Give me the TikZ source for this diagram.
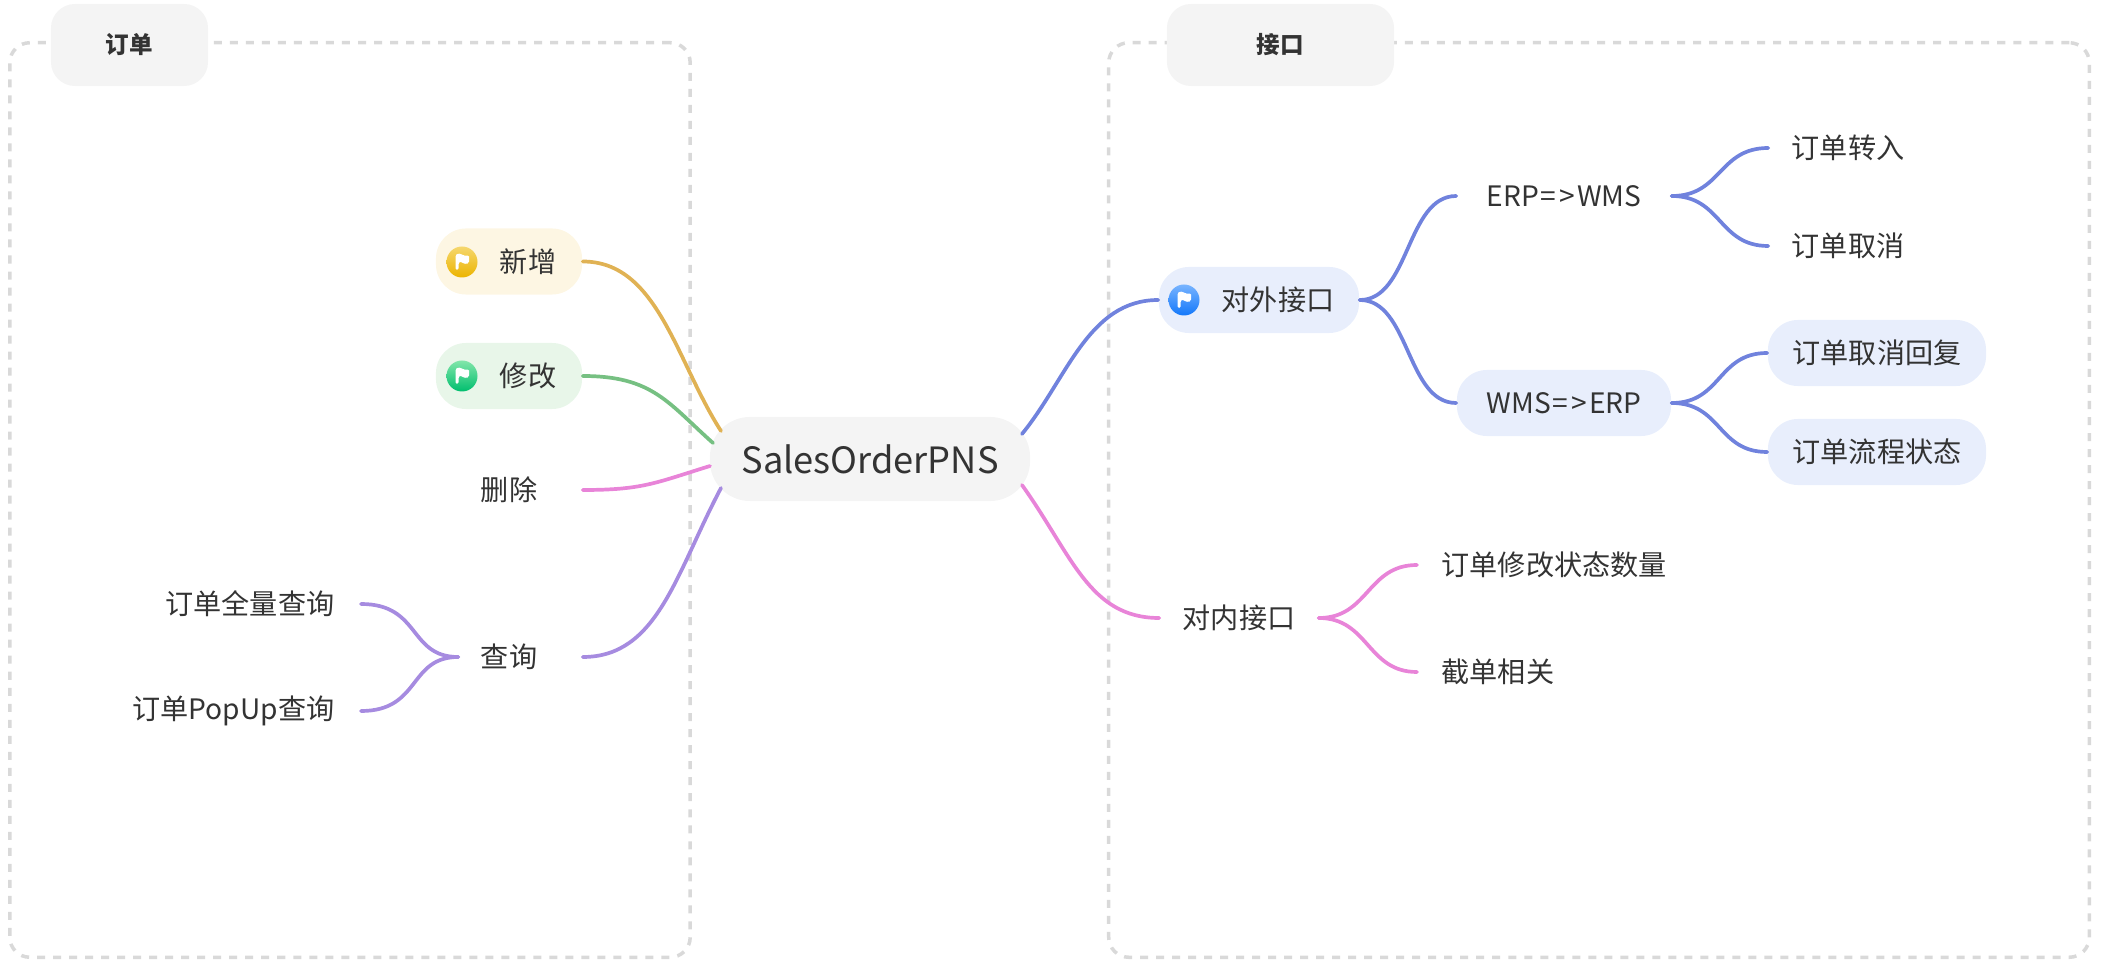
\documentclass[tikz,border=0pt]{standalone}
\usepackage{fontspec}
\setmainfont{Noto Sans CJK SC}
\usetikzlibrary{calc}
\definecolor{ink}{RGB}{51,51,51}
\definecolor{dashgray}{RGB}{217,217,217}
\definecolor{softgray}{RGB}{244,244,244}
\definecolor{softgold}{RGB}{253,246,227}
\definecolor{softgreen}{RGB}{232,246,233}
\definecolor{softblue}{RGB}{232,238,252}
\definecolor{linegold}{RGB}{224,178,84}
\definecolor{linegreen}{RGB}{118,192,130}
\definecolor{linepink}{RGB}{232,132,216}
\definecolor{linepurple}{RGB}{166,139,224}
\definecolor{lineblue}{RGB}{112,130,221}
\tikzset{
  groupbox/.style={draw=dashgray, line width=0.035cm, dash pattern=on 0.08cm off 0.08cm, rounded corners=0.2cm, inner sep=0pt},
  grouptitle/.style={fill=softgray, rounded corners=0.24cm, minimum height=0.82cm, text=ink, font=\fontsize{6.7}{8}\selectfont\bfseries, inner sep=0pt},
  topic/.style={text=ink, font=\fontsize{8}{10}\selectfont, minimum height=0.66cm, inner sep=0pt, rounded corners=0.3cm},
  link/.style={line width=0.037cm, line cap=round},
}
\begin{document}
\begin{tikzpicture}[x=0.01cm, y=-0.01cm]
  \useasboundingbox (0,0) rectangle (2102,964);
  % groups
  \node[groupbox, minimum width=6.8cm, minimum height=9.14cm] (ordergroup) at (350,500) {};
  \node[groupbox, minimum width=9.8cm, minimum height=9.14cm] (apigroup) at (1599,500) {};
  \node[grouptitle, minimum width=1.57cm] (ordertitle) at (129.5,45) {订单};
  \node[grouptitle, minimum width=2.27cm] (apititle) at (1280.5,45) {接口};
  % root
  \node[topic, fill=softgray, minimum width=3.2cm, minimum height=0.84cm, rounded corners=0.4cm, font=\fontsize{10.3}{12}\selectfont] (root) at (870,459) {SalesOrderPNS};
  \coordinate (rootadd) at (721,431);
  \coordinate (rootedit) at (713,443);
  \coordinate (rootdel) at (710,466);
  \coordinate (rootquery) at (721,488);
  \coordinate (rootout) at (1022,434);
  \coordinate (rootin) at (1022,485);
  % left side
  \node[topic, fill=softgold, minimum width=1.46cm] (add) at (509,261.5) {\hspace{0.38cm}新增};
  \node[topic, fill=softgreen, minimum width=1.46cm] (edit) at (509,376) {\hspace{0.38cm}修改};
  \node[topic, minimum width=1.46cm] (del) at (509,490) {删除};
  \node[topic, minimum width=1.46cm] (query) at (509,657) {查询};
  \node[topic, anchor=east, inner xsep=0.26cm] (queryall) at (361,604) {订单全量查询};
  \node[topic, anchor=east, inner xsep=0.26cm] (querypop) at (361,711) {订单PopUp查询};
  % right side
  \node[topic, fill=softblue, minimum width=2cm] (outer) at (1259,300) {\hspace{0.38cm}对外接口};
  \node[topic, minimum width=2.14cm] (erpwms) at (1564,196) {ERP\kern0.02cm=\kern0.03cm>\kern0.02cm WMS};
  \node[topic, fill=softblue, minimum width=2.14cm] (wmserp) at (1564,403) {WMS\kern0.02cm=\kern0.03cm>\kern0.02cm ERP};
  \node[topic, minimum width=1.58cm] (transin) at (1848,148) {订单转入};
  \node[topic, minimum width=1.58cm] (cancel) at (1848,246) {订单取消};
  \node[topic, fill=softblue, minimum width=2.18cm] (reply) at (1877,353) {订单取消回复};
  \node[topic, fill=softblue, minimum width=2.18cm] (flow) at (1877,452) {订单流程状态};
  \node[topic, minimum width=1.58cm] (inner) at (1239,618) {对内接口};
  \node[topic, anchor=west, inner xsep=0.24cm] (editqty) at (1417,565) {订单修改状态数量};
  \node[topic, anchor=west, inner xsep=0.24cm] (cutoff) at (1417,672) {截单相关};
  % flag icons
  \foreach \px/\py/\ctop/\cbot in {462/262/{245,215,110}/{236,180,0}, 462/376/{130,230,170}/{0,190,110}, 1184/300/{120,180,255}/{20,120,250}} {
    \definecolor{icontop}{RGB}{\ctop}
    \definecolor{iconbot}{RGB}{\cbot}
    \shade[top color=icontop, bottom color=iconbot] (\px,\py) circle (15.5);
    \fill[white, rounded corners=0.015cm] (\px-6.5,\py+8) -- (\px-6.5,\py-7) .. controls (\px-2,\py-10) and (\px+2,\py-5) .. (\px+7,\py-7) -- (\px+7,\py+1) .. controls (\px+2,\py+3) and (\px-1,\py-1) .. (\px-3.5,\py+1) -- (\px-3.5,\py+8) -- cycle;
  }
  % links
  \draw[link, linegold] (add.east) .. controls +(75,0) and +(-45,-70) .. (rootadd);
  \draw[link, linegreen] (edit.east) .. controls +(70,0) and +(-45,-40) .. (rootedit);
  \draw[link, linepink] (del.east) .. controls +(60,0) and +(-55,17) .. (rootdel);
  \draw[link, linepurple] (query.east) .. controls +(75,0) and +(-45,85) .. (rootquery);
  \foreach \kid in {queryall, querypop} {
    \draw[link, linepurple] (\kid.east) .. controls +(60,0) and +(-50,0) .. ($(query.west)+(23,0)$);
  }
  \draw[link, lineblue] (rootout) .. controls +(45,-55) and +(-70,0) .. (outer.west);
  \draw[link, linepink] (rootin) .. controls +(50,70) and +(-70,0) .. (inner.west);
  \foreach \kid in {erpwms, wmserp} {
    \draw[link, lineblue] (outer.east) .. controls +(50,0) and +(-50,0) .. (\kid.west);
  }
  \foreach \kid in {transin, cancel} {
    \draw[link, lineblue] (erpwms.east) .. controls +(50,0) and +(-50,0) .. (\kid.west);
  }
  \foreach \kid in {reply, flow} {
    \draw[link, lineblue] (wmserp.east) .. controls +(50,0) and +(-50,0) .. (\kid.west);
  }
  \foreach \kid in {editqty, cutoff} {
    \draw[link, linepink] (inner.east) .. controls +(50,0) and +(-50,0) .. (\kid.west);
  }
\end{tikzpicture}
\end{document}
